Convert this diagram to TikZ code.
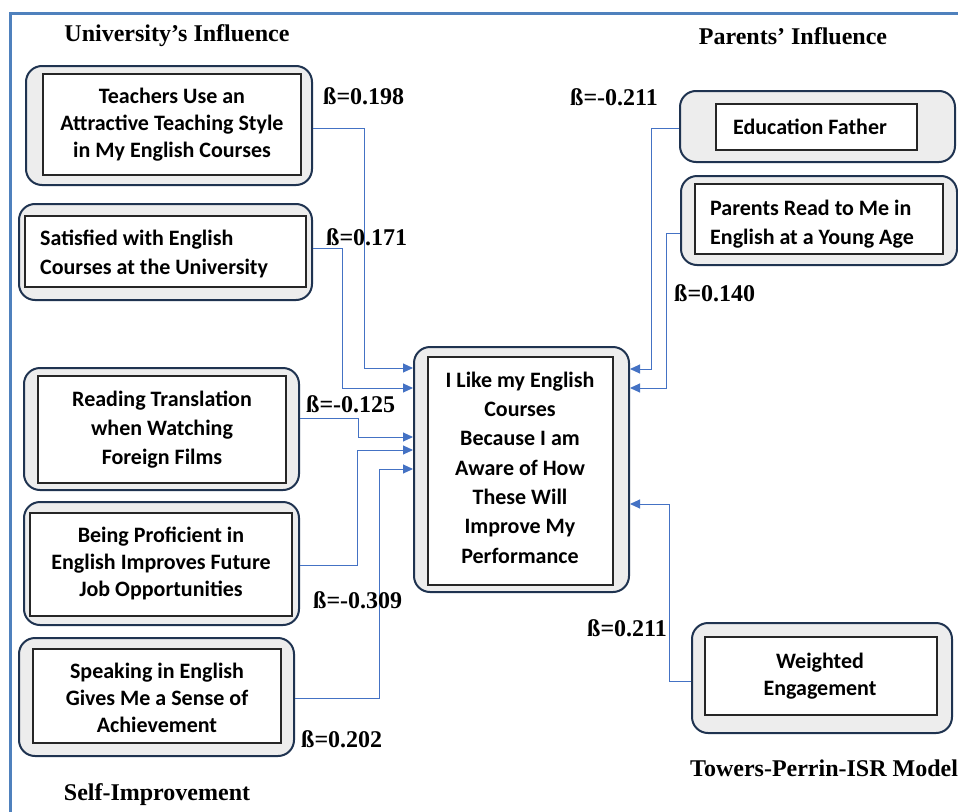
\documentclass[tikz,border=0pt]{standalone}
\usepackage{fontspec}
\setmainfont{Carlito}
\newfontfamily\boxfont{Carlito}
\newfontfamily\labfont{Liberation Serif}
\usetikzlibrary{arrows.meta,fit}
\definecolor{frameblue}{HTML}{4F81BD}
\definecolor{connblue}{HTML}{4472C4}
\definecolor{navy}{HTML}{1F3350}
\definecolor{boxgray}{HTML}{EDEDED}
\begin{document}
\begin{tikzpicture}[x=1pt,y=-1pt,
  outerbox/.style={draw=navy, line width=2pt, fill=boxgray, rounded corners=16pt, inner sep=0pt},
  innerbox/.style={draw=black!85, line width=1.3pt, fill=white, inner sep=0pt},
  boxtext/.style={font=\boxfont\bfseries\fontsize{22}{27}\selectfont, align=center, inner sep=0pt},
  head/.style={font=\labfont\bfseries\fontsize{24}{28}\selectfont, inner sep=0pt},
  lab/.style={font=\labfont\bfseries\fontsize{24}{28}\selectfont, inner sep=0pt, anchor=west},
  conn/.style={draw=connblue, line width=1pt, -{Triangle[length=10pt,width=9pt]}}]
\useasboundingbox (0,0) rectangle (958,811);
\fill[white] (0,0) rectangle (958,811);
% frame
\draw[frameblue, line width=3pt] (10,820) -- (10,13) -- (965,13);

% headers
\node[head] (uni) at (177,36) {University’s Influence};
\node[head] (par) at (793,36) {Parents’ Influence};
\node[head] (self) at (157,795) {Self-Improvement};
\node[head, anchor=west] (tow) at (690,768) {Towers-Perrin-ISR Model};

% Teachers
\node[outerbox, fit={(26,66)(312,185)}] (teaO) {};
\node[innerbox, fit={(43,74)(301,175)}] (teaI) {};
\node[boxtext] (teaT) at (172,125) {Teachers Use an\\Attractive Teaching Style\\in My English Courses};
% Satisfied
\node[outerbox, fit={(19,204)(312,300)}] (satO) {};
\node[innerbox, fit={(25,216)(306,287)}] (satI) {};
\node[boxtext, align=left, anchor=west, font=\boxfont\bfseries\fontsize{22}{29}\selectfont] (satT) at (40,254) {Satisfied with English\\Courses at the University};
% Reading
\node[outerbox, fit={(24,368)(299,490)}] (reaO) {};
\node[innerbox, fit={(38,376)(286,483)}] (reaI) {};
\node[boxtext, font=\boxfont\bfseries\fontsize{22}{29}\selectfont] (reaT) at (162,430) {Reading Translation\\when Watching\\Foreign Films};
% Being
\node[outerbox, fit={(24,502)(299,625)}] (beiO) {};
\node[innerbox, fit={(30,513)(292,616)}] (beiI) {};
\node[boxtext] (beiT) at (161,563) {Being Proficient in\\English Improves Future\\Job Opportunities};
% Speaking
\node[outerbox, fit={(19,638)(294,756)}] (speO) {};
\node[innerbox, fit={(33,649)(281,743)}] (speI) {};
\node[boxtext] (speT) at (157,698) {Speaking in English\\Gives Me a Sense of\\Achievement};
% Center
\node[outerbox, fit={(414,347)(629,592)}] (ctrO) {};
\node[innerbox, fit={(428,357)(613,585)}] (ctrI) {};
\node[boxtext, font=\boxfont\bfseries\fontsize{22}{29.3}\selectfont] (ctrT) at (520,467.5) {I Like my English\\Courses\\Because I am\\Aware of How\\These Will\\Improve My\\Performance};
% Education Father
\node[outerbox, fit={(680,91)(955,162)}] (eduO) {};
\node[innerbox, fit={(716,104)(917,150)}] (eduI) {};
\node[boxtext] (eduT) at (810,127) {Education Father};
% Parents Read
\node[outerbox, fit={(681,176)(957,265)}] (preO) {};
\node[innerbox, fit={(695,184)(943,254)}] (preI) {};
\node[boxtext, align=left, anchor=west, font=\boxfont\bfseries\fontsize{22}{29}\selectfont] (preT) at (710,224) {Parents Read to Me in\\English at a Young Age};
% Weighted
\node[outerbox, fit={(692,623)(952,733)}] (weiO) {};
\node[innerbox, fit={(705,637)(937,715)}] (weiI) {};
\node[boxtext] (weiT) at (820,676) {Weighted\\Engagement};

% connectors
\draw[conn] (teaO.east |- 0,128) -- (364,128) -- (364,368) -- (ctrO.west |- 0,368);
\draw[conn] (satO.east |- 0,248) -- (342,248) -- (342,388) -- (ctrO.west |- 0,388);
\draw[conn] (reaO.east |- 0,418) -- (358,418) -- (358,437) -- (ctrO.west |- 0,437);
\draw[conn] (beiO.east |- 0,565) -- (357,565) -- (357,450) -- (ctrO.west |- 0,450);
\draw[conn] (speO.east |- 0,698) -- (379,698) -- (379,469) -- (ctrO.west |- 0,469);
\draw[conn] (eduO.west |- 0,128) -- (651,128) -- (651,369) -- (ctrO.east |- 0,369);
\draw[conn] (preO.west |- 0,233) -- (666,233) -- (666,388) -- (ctrO.east |- 0,388);
\draw[conn] (weiO.west |- 0,681) -- (669,681) -- (669,504) -- (ctrO.east |- 0,504);

% labels
\node[lab] (b1) at (323,96) {ß=0.198};
\node[lab] (b2) at (326,237) {ß=0.171};
\node[lab] (b3) at (306,404) {ß=-0.125};
\node[lab] (b4) at (313,600) {ß=-0.309};
\node[lab] (b5) at (301,739) {ß=0.202};
\node[lab] (b6) at (570,97) {ß=-0.211};
\node[lab] (b7) at (674,293) {ß=0.140};
\node[lab] (b8) at (587,628) {ß=0.211};
\end{tikzpicture}
\end{document}
